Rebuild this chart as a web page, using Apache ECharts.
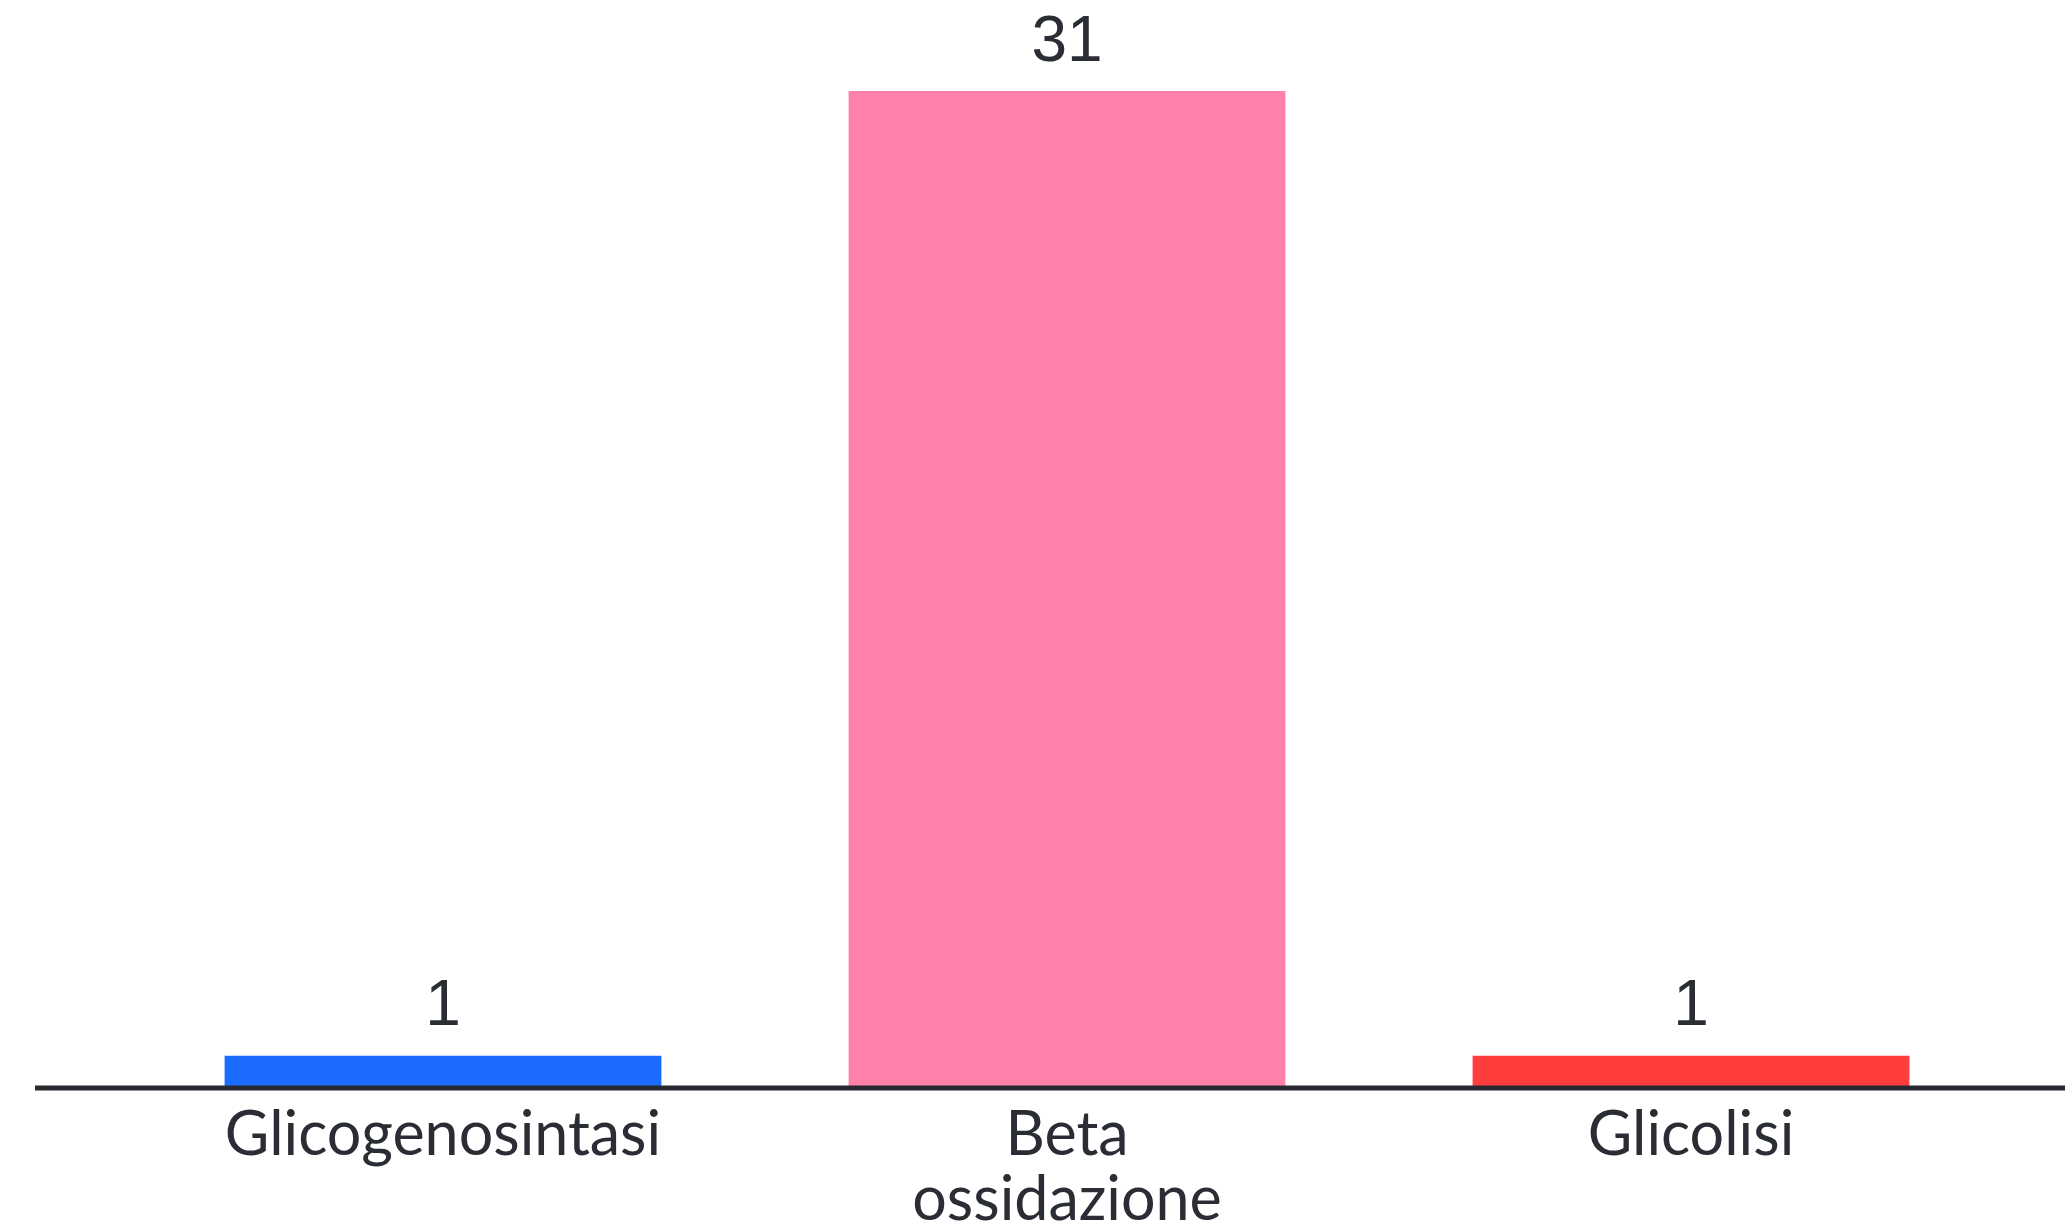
<!DOCTYPE html>
<html>
<head>
<meta charset="utf-8">
<script src="https://cdn.jsdelivr.net/npm/echarts@6/dist/echarts.min.js"></script>
<style>
  html, body { margin: 0; padding: 0; background: #ffffff; }
  #chart { width: 2065px; height: 1227px; }
</style>
</head>
<body>
<div id="chart"></div>
<script>
// Metabolic pathways and their counts
const categories = ['Glicogenosintasi', 'Beta\nossidazione', 'Glicolisi'];
const values = [1, 31, 1];
const barColors = ['#1b6bff', '#ff80a9', '#ff3d3d'];

const textColor = '#2a2d33';
const axisColor = '#262a30';

const chart = echarts.init(document.getElementById('chart'), null, { renderer: 'canvas' });

const gridBottom = 139;

chart.setOption({
  backgroundColor: '#ffffff',
  animation: false,
  grid: {
    left: 131, right: 62, top: 91, bottom: gridBottom,
    containLabel: false,
    outerBoundsMode: 'none'
  },
  xAxis: {
    type: 'category',
    data: categories,
    axisLine: { show: false },
    axisTick: { show: false },
    axisLabel: {
      color: textColor,
      fontFamily: 'Lato, "Liberation Sans", sans-serif',
      fontSize: 61,
      lineHeight: 65,
      margin: 15,
      interval: 0
    }
  },
  yAxis: {
    type: 'value',
    min: 0,
    max: 31,
    show: false,
    splitLine: { show: false }
  },
  series: [{
    type: 'bar',
    data: values.map((v, i) => ({ value: v, itemStyle: { color: barColors[i] } })),
    barWidth: '70%',
    label: {
      show: true,
      position: 'top',
      distance: 16,
      color: textColor,
      fontFamily: '"Liberation Sans", Arial, sans-serif',
      fontSize: 64
    }
  }],
  graphic: [{
    type: 'line',
    z: 100,
    shape: { x1: 35, y1: 1227 - gridBottom, x2: 2065, y2: 1227 - gridBottom },
    style: { stroke: axisColor, lineWidth: 5 }
  }]
});
</script>
</body>
</html>
